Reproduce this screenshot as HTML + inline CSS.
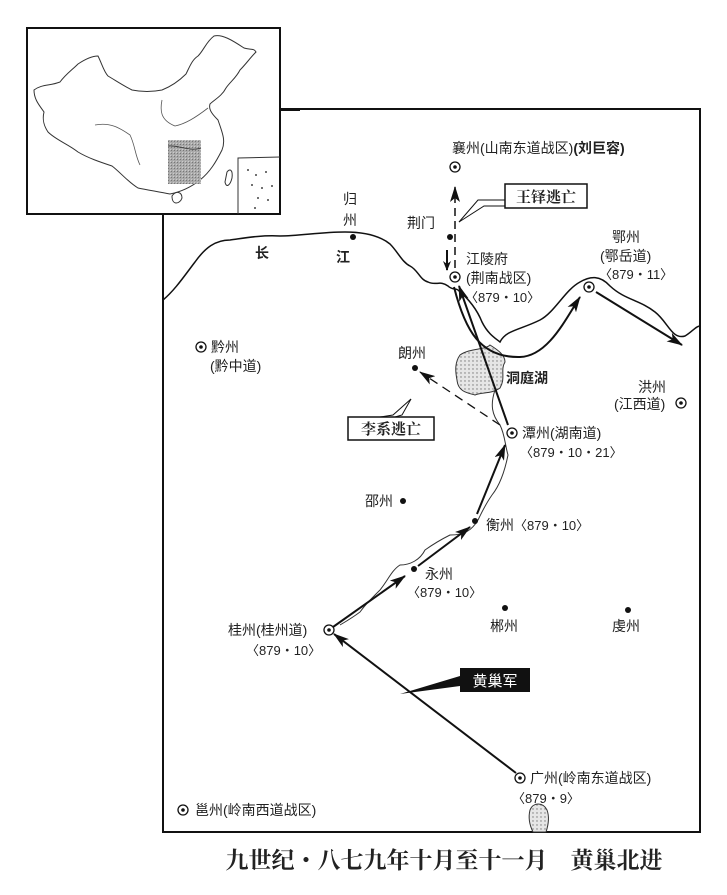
<!DOCTYPE html>
<html><head><meta charset="utf-8"><style>
html,body{margin:0;padding:0;background:#fff;}
svg{display:block;}
text{font-family:"Liberation Sans","Noto Sans CJK SC",sans-serif;fill:#222;}
</style></head><body>
<svg width="727" height="895" viewBox="0 0 727 895" xmlns="http://www.w3.org/2000/svg">
<defs>
<marker id="ah" markerWidth="10" markerHeight="8" refX="9" refY="4" orient="auto" markerUnits="userSpaceOnUse"><path d="M0,0 L10,4 L0,8 L3,4 Z" fill="#111"/></marker>
<marker id="ahb" markerWidth="16" markerHeight="10" refX="15" refY="5" orient="auto" markerUnits="userSpaceOnUse"><path d="M0,0 L16,5 L0,10 L4,5 Z" fill="#111"/></marker>
<pattern id="dots" width="4" height="4" patternUnits="userSpaceOnUse"><rect width="4" height="4" fill="#e6e6e6"/><circle cx="1" cy="1" r="0.7" fill="#777"/></pattern>
<pattern id="gray" width="3" height="3" patternUnits="userSpaceOnUse"><rect width="3" height="3" fill="#aaa"/><rect width="1" height="1" fill="#777"/><rect x="2" y="2" width="1" height="1" fill="#ccc"/></pattern>
</defs>

<rect x="163" y="109" width="537" height="723" fill="#fff" stroke="#111" stroke-width="2"/>

<path d="M163,300 C175,290 185,275 195,262 C205,248 215,240 230,240 C245,238 260,235 280,236 C300,236 320,232 345,232 C365,232 380,236 390,244 C398,252 402,262 410,266 C418,270 420,280 428,282 C436,286 440,280 448,286 C452,290 455,288 458,290" fill="none" stroke="#111" stroke-width="1.5"/>
<path d="M458,290 C470,300 478,312 482,322 C488,334 495,338 500,342 C506,330 520,330 540,320 C555,312 565,290 580,282 C590,276 600,275 610,286 C625,300 640,300 655,312 C668,322 672,340 685,336 C692,332 696,326 700,326" fill="none" stroke="#111" stroke-width="1.5"/>
<path d="M495,390 C490,405 492,415 500,425 C505,435 505,445 508,455 C505,470 500,485 492,495 C485,505 482,512 478,520 C472,530 465,535 450,535 C440,540 432,545 425,550 C420,560 410,565 400,565 C392,570 388,580 380,590 C370,600 365,605 360,612 C352,618 345,622 340,625" fill="none" stroke="#333" stroke-width="1"/>

<path d="M460,355 C470,348 485,350 490,345 C498,350 505,355 505,362 C500,370 506,378 500,388 C492,394 482,392 475,395 C468,393 458,392 457,380 C455,370 455,362 460,355 Z" fill="url(#dots)" stroke="#333" stroke-width="1"/>
<path d="M530,810 C533,802 543,802 547,810 C550,818 548,826 546,832 L533,832 C530,826 528,818 530,810 Z" fill="url(#dots)" stroke="#333" stroke-width="1"/>

<line x1="516" y1="773" x2="334" y2="634" stroke="#111" stroke-width="2" marker-end="url(#ahb)"/>
<line x1="333" y1="627" x2="405" y2="576" stroke="#111" stroke-width="2" marker-end="url(#ahb)"/>
<line x1="418" y1="566" x2="470" y2="527" stroke="#111" stroke-width="2" marker-end="url(#ahb)"/>
<line x1="477" y1="514" x2="505" y2="445" stroke="#111" stroke-width="2" marker-end="url(#ahb)"/>
<line x1="508" y1="425" x2="459" y2="286" stroke="#111" stroke-width="2" marker-end="url(#ahb)"/>
<path d="M454,287 C465,330 480,358 520,357 C548,356 565,320 580,297" fill="none" stroke="#111" stroke-width="2" marker-end="url(#ahb)"/>
<line x1="596" y1="292" x2="682" y2="345" stroke="#111" stroke-width="2" marker-end="url(#ahb)"/>
<line x1="455" y1="268" x2="455" y2="187" stroke="#111" stroke-width="1.5" stroke-dasharray="8,5" marker-end="url(#ahb)"/>
<line x1="447" y1="250" x2="447" y2="270" stroke="#111" stroke-width="2" marker-end="url(#ah)"/>
<line x1="500" y1="425" x2="420" y2="372" stroke="#111" stroke-width="1.3" stroke-dasharray="9,6" marker-end="url(#ahb)"/>

<polyline points="459,222 478,200 505,200" fill="none" stroke="#111" stroke-width="1"/>
<polyline points="459,222 484,206 505,206" fill="none" stroke="#111" stroke-width="1"/>
<rect x="505" y="184" width="82" height="24" fill="#fff" stroke="#111" stroke-width="1.5"/>
<text x="546" y="202" font-size="15" text-anchor="middle" font-weight="bold" style="font-family:'Liberation Serif','Noto Serif CJK SC',serif">王铎逃亡</text>
<polyline points="411,399 393,415 380,417" fill="none" stroke="#111" stroke-width="1"/>
<polyline points="411,399 402,415 395,417" fill="none" stroke="#111" stroke-width="1"/>
<rect x="348" y="417" width="86" height="23" fill="#fff" stroke="#111" stroke-width="1.5"/>
<text x="391" y="434" font-size="15" text-anchor="middle" font-weight="bold" style="font-family:'Liberation Serif','Noto Serif CJK SC',serif">李系逃亡</text>
<path d="M400,694 L460,676 L460,686 Z" fill="#111"/>
<rect x="460" y="668" width="70" height="24" fill="#111"/>
<text x="495" y="686" font-size="15" text-anchor="middle" style="fill:#fff">黄巢军</text>

<g fill="#fff" stroke="#111" stroke-width="1.3">
<circle cx="455" cy="167" r="5"/><circle cx="455" cy="277" r="5"/><circle cx="589" cy="287" r="5"/>
<circle cx="201" cy="347" r="5"/><circle cx="681" cy="403" r="5"/><circle cx="512" cy="433" r="5"/>
<circle cx="329" cy="630" r="5"/><circle cx="520" cy="778" r="5"/><circle cx="183" cy="810" r="5"/>
</g>
<g fill="#111">
<circle cx="455" cy="167" r="1.8"/><circle cx="455" cy="277" r="1.8"/><circle cx="589" cy="287" r="1.8"/>
<circle cx="201" cy="347" r="1.8"/><circle cx="681" cy="403" r="1.8"/><circle cx="512" cy="433" r="1.8"/>
<circle cx="329" cy="630" r="1.8"/><circle cx="520" cy="778" r="1.8"/><circle cx="183" cy="810" r="1.8"/>
<circle cx="450" cy="237" r="3"/><circle cx="353" cy="237" r="3"/><circle cx="415" cy="368" r="3"/>
<circle cx="403" cy="501" r="3"/><circle cx="475" cy="521" r="3"/><circle cx="414" cy="569" r="3"/>
<circle cx="505" cy="608" r="3"/><circle cx="628" cy="610" r="3"/>
</g>

<g font-size="14">
<text x="452" y="153">襄州(山南东道战区)<tspan font-weight="bold">(刘巨容)</tspan></text>
<text x="407" y="228">荆门</text>
<text x="343" y="204">归</text><text x="343" y="225">州</text>
<text x="255" y="258" font-weight="bold">长</text><text x="336" y="262" font-weight="bold">江</text>
<text x="466" y="264">江陵府</text>
<text x="466" y="283">(荆南战区)</text>
<text x="465" y="302" font-size="13">〈879・10〉</text>
<text x="612" y="242">鄂州</text>
<text x="600" y="261">(鄂岳道)</text>
<text x="599" y="279" font-size="13">〈879・11〉</text>
<text x="211" y="352">黔州</text>
<text x="210" y="371">(黔中道)</text>
<text x="398" y="358">朗州</text>
<text x="506" y="383" font-weight="bold">洞庭湖</text>
<text x="638" y="392">洪州</text>
<text x="614" y="409">(江西道)</text>
<text x="522" y="438">潭州(湖南道)</text>
<text x="520" y="457" font-size="13">〈879・10・21〉</text>
<text x="365" y="506">邵州</text>
<text x="486" y="530">衡州<tspan font-size="13">〈879・10〉</tspan></text>
<text x="425" y="579">永州</text>
<text x="407" y="597" font-size="13">〈879・10〉</text>
<text x="490" y="631">郴州</text>
<text x="612" y="631">虔州</text>
<text x="228" y="635">桂州(桂州道)</text>
<text x="246" y="655" font-size="13">〈879・10〉</text>
<text x="530" y="783">广州(岭南东道战区)</text>
<text x="512" y="803" font-size="13">〈879・9〉</text>
<text x="195" y="815">邕州(岭南西道战区)</text>
</g>

<rect x="27" y="28" width="253" height="186" fill="#fff" stroke="#111" stroke-width="2"/>
<path d="M34,90 C42,84 50,86 60,82 C66,74 72,70 78,64 C84,60 92,56 98,56 C102,64 104,72 108,76 C118,82 124,86 132,90 C142,92 152,92 162,90 C172,86 180,80 186,74 C190,66 192,60 198,56 C204,50 206,42 214,36 C222,34 232,40 244,48 C250,50 254,48 256,52 C250,58 246,64 240,70 C236,78 230,82 226,88 C222,96 214,100 210,104 C208,110 214,116 218,120 C222,132 226,140 222,150 C216,162 210,172 200,180 C190,188 180,192 170,194 C160,192 148,190 138,188 C128,182 120,172 112,166 C100,162 88,158 78,152 C68,144 56,140 48,132 C44,126 42,120 44,112 C40,106 34,100 34,90 Z" fill="#fff" stroke="#333" stroke-width="1"/>
<path d="M95,125 C110,122 120,128 130,135 C135,145 135,155 140,165" fill="none" stroke="#555" stroke-width="0.8"/>
<path d="M162,100 C160,110 160,120 175,126 C185,124 195,118 208,108" fill="none" stroke="#555" stroke-width="0.8"/>
<rect x="168" y="140" width="33" height="44" fill="url(#gray)"/>
<path d="M168,146 C180,145 190,152 201,148" fill="none" stroke="#333" stroke-width="0.8"/>
<path d="M172,196 C176,190 182,192 182,198 C180,204 172,206 172,196 Z" fill="#fff" stroke="#333" stroke-width="1"/>
<path d="M227,172 C230,168 233,170 232,178 C230,186 226,188 225,182 Z" fill="#fff" stroke="#333" stroke-width="1"/>
<path d="M238,214 L238,158 L280,157" fill="none" stroke="#333" stroke-width="1"/>
<g fill="#444"><circle cx="248" cy="170" r="1"/><circle cx="256" cy="175" r="1"/><circle cx="266" cy="172" r="1"/><circle cx="252" cy="185" r="1"/><circle cx="262" cy="188" r="1"/><circle cx="272" cy="186" r="1"/><circle cx="258" cy="198" r="1"/><circle cx="268" cy="200" r="1"/><circle cx="255" cy="208" r="1"/></g>
<line x1="280" y1="110" x2="300" y2="110" stroke="#111" stroke-width="2"/>

<text x="444" y="868" font-size="23" font-weight="bold" text-anchor="middle" style="font-family:'Liberation Serif','Noto Serif CJK SC',serif">九世纪・八七九年十月至十一月　黄巢北进</text>
</svg>
</body></html>
